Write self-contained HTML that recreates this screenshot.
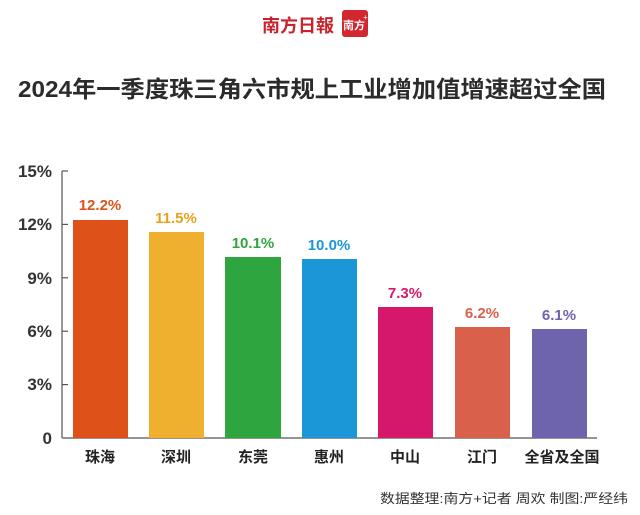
<!DOCTYPE html>
<html><head><meta charset="utf-8"><style>
body{margin:0;background:#fff;width:640px;height:515px;overflow:hidden}
svg{display:block}
text{font-family:"Liberation Sans","Noto Sans CJK SC",sans-serif}
</style></head><body>
<svg width="640" height="515" viewBox="0 0 640 515">
<text x="298" y="32" font-family="'Noto Serif CJK SC',serif" font-size="18" fill="#c8232c" text-anchor="middle" font-weight="bold" textLength="72" lengthAdjust="spacingAndGlyphs">南方日報</text>
<rect x="342" y="10" width="26" height="27" rx="3" fill="#d2272f"/>
<text x="354" y="29" font-size="11" fill="#fff" text-anchor="middle" font-weight="bold">南方</text>
<text x="363" y="20" font-size="8" fill="#fff">+</text>
<text x="18" y="97" font-size="23" font-weight="bold" fill="#2b2b2b" textLength="588" lengthAdjust="spacingAndGlyphs">2024年一季度珠三角六市规上工业增加值增速超过全国</text>
<g stroke="#555" stroke-width="1.2">
<line x1="62" y1="171" x2="62" y2="438"/>
<line x1="62" y1="438" x2="597" y2="438"/>
<line x1="62" y1="171" x2="68" y2="171"/><line x1="62" y1="224.4" x2="68" y2="224.4"/>
<line x1="62" y1="277.8" x2="68" y2="277.8"/><line x1="62" y1="331.2" x2="68" y2="331.2"/>
<line x1="62" y1="384.6" x2="68" y2="384.6"/>
</g>
<g font-size="17" font-weight="bold" fill="#333" text-anchor="end">
<text x="52" y="177">15%</text><text x="52" y="230">12%</text><text x="52" y="284">9%</text>
<text x="52" y="337">6%</text><text x="52" y="390">3%</text><text x="52" y="444">0</text>
</g>
<g>
<rect x="73" y="220" width="55" height="218" fill="#de5219"/>
<rect x="149" y="232" width="55" height="206" fill="#efb030"/>
<rect x="225" y="257" width="56" height="181" fill="#2ea53f"/>
<rect x="302" y="259" width="55" height="179" fill="#1b96d6"/>
<rect x="378" y="307" width="55" height="131" fill="#d6186c"/>
<rect x="455" y="327" width="55" height="111" fill="#d9614b"/>
<rect x="532" y="329" width="55" height="109" fill="#6e63ad"/>
</g>
<g font-size="15" font-weight="bold" text-anchor="middle">
<text x="100" y="210" fill="#de5219">12.2%</text>
<text x="176" y="223" fill="#e8a21a">11.5%</text>
<text x="253" y="248" fill="#2ea53f">10.1%</text>
<text x="329" y="250" fill="#1b96d6">10.0%</text>
<text x="405" y="298" fill="#d6186c">7.3%</text>
<text x="482" y="318" fill="#d9614b">6.2%</text>
<text x="559" y="320" fill="#6e63ad">6.1%</text>
</g>
<g font-size="15" font-weight="bold" fill="#222" text-anchor="middle">
<text x="100" y="462">珠海</text><text x="176" y="462">深圳</text><text x="253" y="462">东莞</text>
<text x="329" y="462">惠州</text><text x="405" y="462">中山</text><text x="482" y="462">江门</text>
<text x="562" y="462">全省及全国</text>
</g>
<text x="380" y="503" font-size="13" fill="#333" textLength="248" lengthAdjust="spacingAndGlyphs">数据整理:南方+记者 周欢  制图:严经纬</text>
</svg>
</body></html>
